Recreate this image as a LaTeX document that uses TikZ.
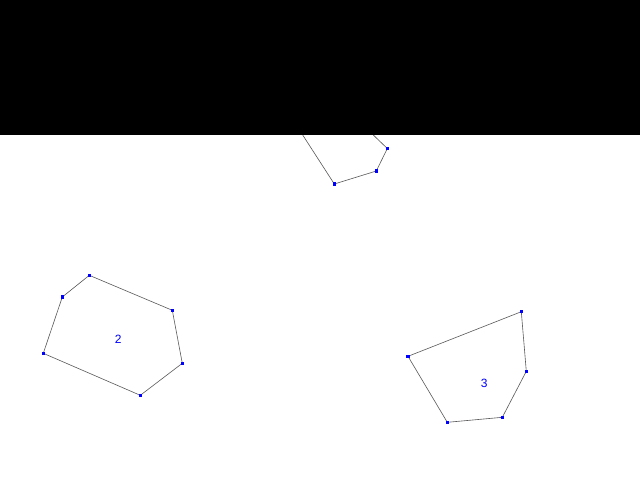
\documentclass[tikz,border=0pt]{standalone}
\usepackage{fontspec}
\setmainfont{Liberation Sans}
\begin{document}
\begin{tikzpicture}[x=1pt,y=-1pt,
  vtx/.style={fill=blue,draw=none,inner sep=0pt,minimum size=3.2pt,shape=rectangle},
  edge/.style={draw=black!65,line width=0.6pt},
  lbl/.style={text=blue,font=\fontsize{12}{14}\selectfont,inner sep=0pt}]
\useasboundingbox (0,0) rectangle (640,480);
\fill[white] (0,0) rectangle (640,480);
% polygon 1 (partly hidden)
\coordinate (a0) at (302.7,135);
\coordinate (a4) at (373.3,135);
\node[vtx] (a1) at (334.3,184) {};
\node[vtx] (a2) at (376.3,171) {};
\node[vtx] (a3) at (387.3,148.5) {};
\draw[edge] (a0) -- (a1.center) -- (a2.center) -- (a3.center) -- (a4);
\node[vtx] at (a1) {};
\node[vtx] at (a2) {};
\node[vtx] at (a3) {};
% polygon 2
\node[vtx] (b1) at (89.3,275.3) {};
\node[vtx] (b2) at (62.3,297) {};
\node[vtx] (b3) at (43.3,353.3) {};
\node[vtx] (b4) at (140.3,395.3) {};
\node[vtx] (b5) at (182.3,363.3) {};
\node[vtx] (b6) at (172.3,310.3) {};
\draw[edge] (b1.center) -- (b2.center) -- (b3.center) -- (b4.center) -- (b5.center) -- (b6.center) -- cycle;
\foreach \n in {b1,b2,b3,b4,b5,b6} \node[vtx] at (\n) {};
\node[lbl] (l2) at (118.3,339.5) {2};
% polygon 3
\node[vtx] (c1) at (521.3,311.7) {};
\node[vtx] (c2) at (408,356.3) {};
\node[vtx] (c3) at (447.3,422.3) {};
\node[vtx] (c4) at (502.3,417.3) {};
\node[vtx] (c5) at (526.3,371.3) {};
\draw[edge] (c1.center) -- (c2.center) -- (c3.center) -- (c4.center) -- (c5.center) -- cycle;
\foreach \n in {c1,c2,c3,c4,c5} \node[vtx] at (\n) {};
\node[lbl] (l3) at (484.3,383.5) {3};
% black band
\fill[black] (0,0) rectangle (640,135);
\end{tikzpicture}
\end{document}
